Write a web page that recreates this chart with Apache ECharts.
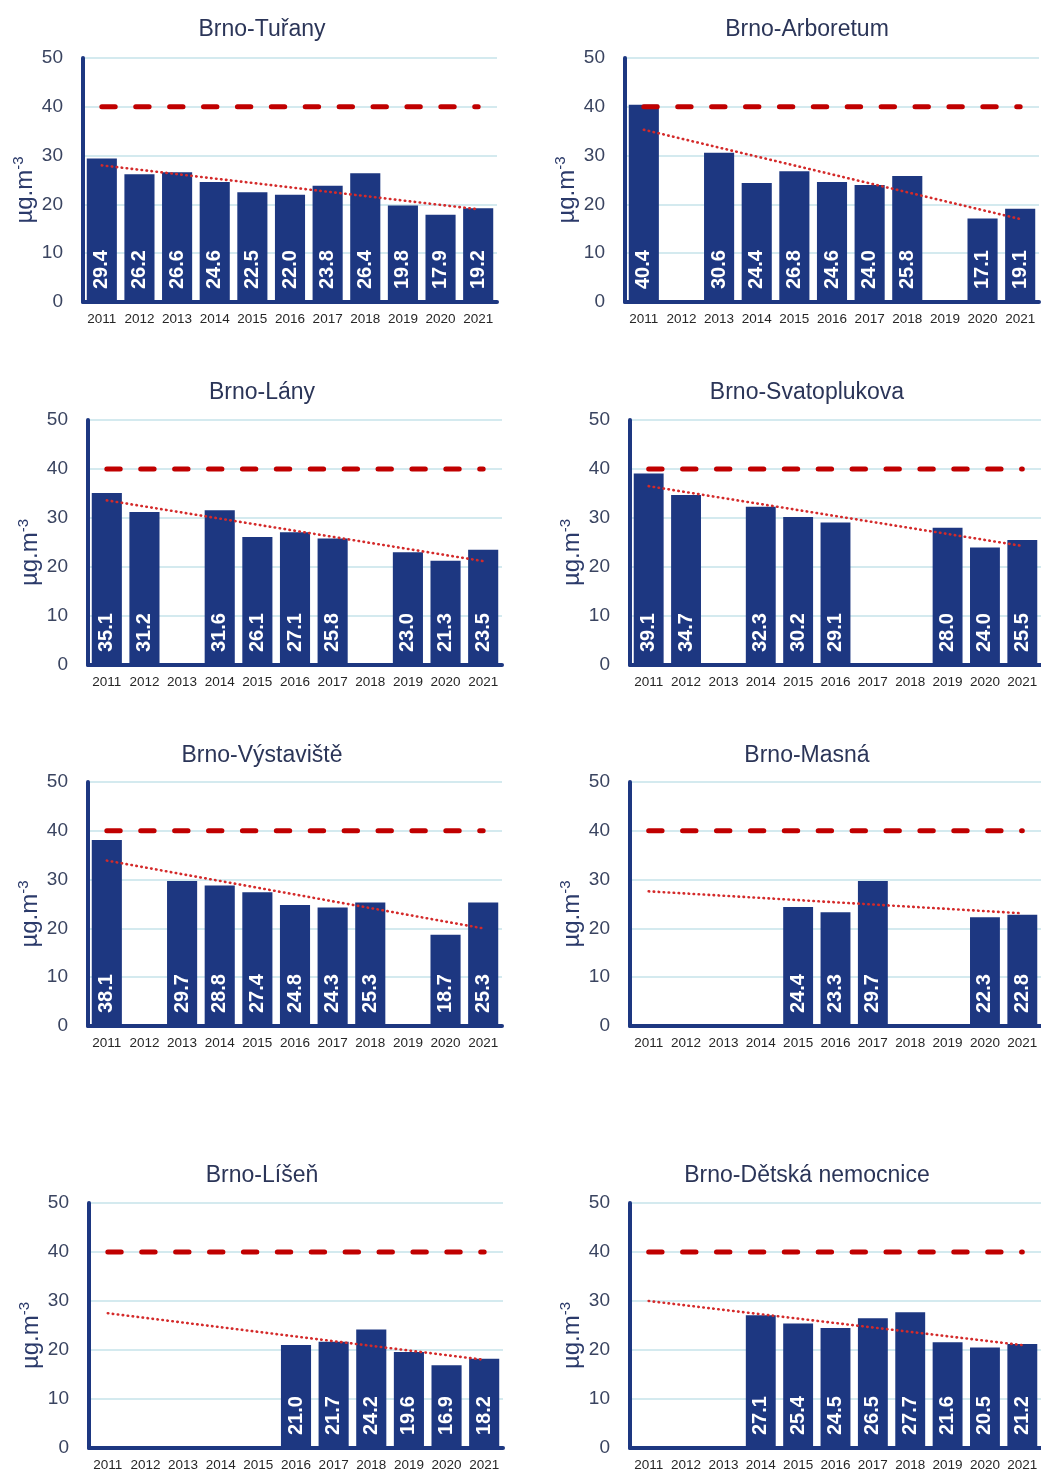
<!DOCTYPE html>
<html>
<head>
<meta charset="utf-8">
<script src="https://cdn.jsdelivr.net/npm/echarts@6/dist/echarts.min.js"></script>
<style>
html,body{margin:0;padding:0;background:#fff;}
#c{width:1041px;height:1472px;}
</style>
</head>
<body>
<div id="c"></div>
<script>
var years = ['2011','2012','2013','2014','2015','2016','2017','2018','2019','2020','2021'];
var yTicks = [0, 10, 20, 30, 40, 50];
var limitValue = 40;

var stationNames = ['Brno-Tuřany','Brno-Arboretum','Brno-Lány','Brno-Svatoplukova','Brno-Výstaviště','Brno-Masná','Brno-Líšeň','Brno-Dětská nemocnice'];

var turany        = [29.4, 26.2, 26.6, 24.6, 22.5, 22.0, 23.8, 26.4, 19.8, 17.9, 19.2];
var arboretum     = [40.4, null, 30.6, 24.4, 26.8, 24.6, 24.0, 25.8, null, 17.1, 19.1];
var lany          = [35.1, 31.2, null, 31.6, 26.1, 27.1, 25.8, null, 23.0, 21.3, 23.5];
var svatoplukova  = [39.1, 34.7, null, 32.3, 30.2, 29.1, null, null, 28.0, 24.0, 25.5];
var vystaviste    = [38.1, null, 29.7, 28.8, 27.4, 24.8, 24.3, 25.3, null, 18.7, 25.3];
var masna         = [null, null, null, null, 24.4, 23.3, 29.7, null, null, 22.3, 22.8];
var lisen         = [null, null, null, null, null, 21.0, 21.7, 24.2, 19.6, 16.9, 18.2];
var detska        = [null, null, null, 27.1, 25.4, 24.5, 26.5, 27.7, 21.6, 20.5, 21.2];

// trend line endpoint values (at 2011 and 2021)
var trendStart = [28.0, 35.3, 33.6, 36.5, 33.9, 27.6, 27.5, 30.0];
var trendEnd   = [19.0, 17.0, 21.2, 24.3, 20.0, 23.1, 18.0, 21.0];

var stationValues = [turany, arboretum, lany, svatoplukova, vystaviste, masna, lisen, detska];

// layout
var NAVY = '#1d3781';
var RED = '#c00000';
var FONT = 'Liberation Sans, Arial, sans-serif';
var gridLefts = [83, 625, 88, 630, 88, 630, 89, 630];
var rowTops = [58, 420, 782, 1203];
var rowHeights = [244, 245, 244, 247];
var titleTops = [13, 376, 739, 1159];
var titleCenters = [257, 802];
var plotWidth = 414;

var grids = [], xAxes = [], yAxes = [], series = [], titles = [];
for (var i = 0; i < 8; i++) {
  var row = Math.floor(i / 2), col = i % 2;
  grids.push({left: gridLefts[i], top: rowTops[row], width: plotWidth, height: rowHeights[row], containLabel: false});
  titles.push({
    text: stationNames[i],
    left: titleCenters[col], top: titleTops[row], textAlign: 'center',
    textStyle: {fontFamily: FONT, fontSize: 23, fontWeight: 'normal', color: '#2b3558'}
  });
  xAxes.push({
    type: 'category', gridIndex: i, data: years, boundaryGap: true,
    axisLine: {show: true, lineStyle: {color: NAVY, width: 4}},
    axisTick: {show: false},
    axisLabel: {interval: 0, fontFamily: FONT, fontSize: 13.5, color: '#262626', margin: 10},
    splitLine: {show: false}, z: 5
  });
  yAxes.push({
    type: 'value', gridIndex: i, min: yTicks[0], max: yTicks[yTicks.length - 1], interval: 10,
    name: '{a|µg.m}{b|-3}', nameLocation: 'middle', nameRotate: 90, nameGap: 46,
    nameTextStyle: {
      color: '#2b3a6a', padding: [0, 20, 0, 0],
      rich: {
        a: {fontFamily: FONT, fontSize: 24, color: '#2b3a6a', verticalAlign: 'bottom', lineHeight: 26},
        b: {fontFamily: FONT, fontSize: 15, color: '#2b3a6a', verticalAlign: 'top', lineHeight: 26}
      }
    },
    axisLine: {show: true, lineStyle: {color: NAVY, width: 4}},
    axisTick: {show: false},
    axisLabel: {fontFamily: FONT, fontSize: 19, color: '#3a4460', margin: 20},
    splitLine: {show: true, lineStyle: {color: '#c6e3ea', width: 1.5}}
  });
  series.push({
    type: 'bar', xAxisIndex: i, yAxisIndex: i, data: stationValues[i],
    barWidth: '80%',
    itemStyle: {color: NAVY},
    label: {
      show: true, position: 'insideBottom', rotate: 90, align: 'left', verticalAlign: 'middle', distance: 13,
      fontFamily: FONT, fontWeight: 'bold', fontSize: 20, color: '#ffffff',
      formatter: function (p) { return p.value == null ? '' : p.value.toFixed(1); }
    },
    z: 2
  });
  series.push({
    type: 'line', xAxisIndex: i, yAxisIndex: i,
    data: years.map(function () { return limitValue; }),
    symbol: 'none', silent: true, clip: false,
    lineStyle: {color: RED, width: 5, type: [13.4, 20.5], cap: 'round'},
    z: 4
  });
  series.push({
    type: 'line', xAxisIndex: i, yAxisIndex: i,
    data: [[years[0], trendStart[i]], [years[years.length - 1], trendEnd[i]]],
    symbol: 'none', silent: true, clip: false,
    lineStyle: {color: '#d42a2a', width: 2.6, type: [0.5, 4.5], cap: 'round'},
    z: 4
  });
}

var chart = echarts.init(document.getElementById('c'), null, {renderer: 'canvas'});
chart.setOption({
  animation: false,
  backgroundColor: '#ffffff',
  title: titles,
  grid: grids,
  xAxis: xAxes,
  yAxis: yAxes,
  series: series
});
</script>
</body>
</html>
